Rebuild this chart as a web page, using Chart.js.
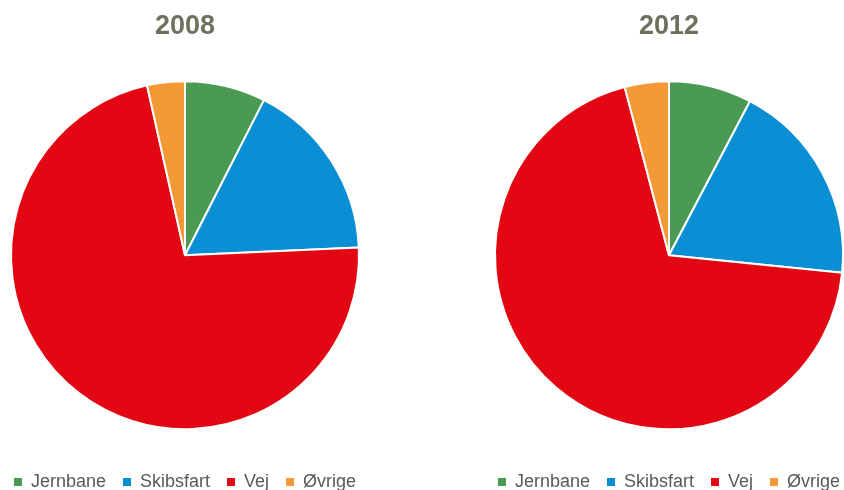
<!DOCTYPE html>
<html>
<head>
<meta charset="utf-8">
<script src="https://cdn.jsdelivr.net/npm/chart.js@4/dist/chart.umd.min.js"></script>
<style>
    html, body { margin: 0; padding: 0; background: #fff; overflow: hidden; }
    body { width: 844px; height: 490px; position: relative; }
    .box { position: absolute; top: 0; width: 520px; height: 501px; }
    #c2008 { left: -75px; }
    #c2012 { left: 409px; }
</style>
</head>
<body>
<div class="box" id="c2008"><canvas id="pie2008"></canvas></div>
<div class="box" id="c2012"><canvas id="pie2012"></canvas></div>
<script>
const categories = ["Jernbane", "Skibsfart", "Vej", "Øvrige"];
const values2008 = [7.5, 16.8, 72.2, 3.5];
const values2012 = [7.7, 18.9, 69.3, 4.1];

const colors = [
    "#4a9a54", // jernbane
    "#0a8fd5", // skibsfart
    "#e30613", // vej
    "#f39a36", // øvrige
];

const FONT = "'Liberation Sans', Arial, sans-serif";

function makePie(canvasId, title, values) {
    const ctx = document.getElementById(canvasId).getContext("2d");
    const defaultLabels = Chart.overrides.pie.plugins.legend.labels.generateLabels;

    new Chart(ctx, {
        type: "pie",
        data: {
            labels: categories,
            datasets: [{
                data: values,
                backgroundColor: colors,
                borderColor: "#ffffff",
                borderWidth: 2,
                radius: 174,
            }],
        },
        options: {
            responsive: true,
            maintainAspectRatio: false,
            animation: false,
            plugins: {
                title: {
                    display: true,
                    text: title,
                    color: "#707060",
                    font: { family: FONT, size: 27, weight: "bold" },
                    padding: { top: 10, bottom: 12 },
                },
                legend: {
                    position: "bottom",
                    labels: {
                        color: "#595959",
                        font: { family: FONT, size: 18 },
                        boxWidth: 8,
                        boxHeight: 8,
                        padding: 17,
                        // no white outline on the little squares
                        generateLabels: (chart) =>
                            defaultLabels(chart).map((l) => ({ ...l, lineWidth: 0 })),
                    },
                },
                tooltip: { enabled: false },
            },
        },
    });
}

makePie("pie2008", "2008", values2008);
makePie("pie2012", "2012", values2012);
</script>
</body>
</html>
